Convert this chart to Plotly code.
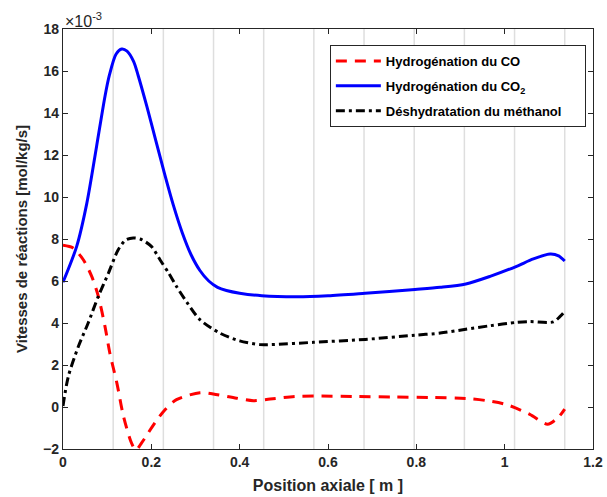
import plotly.graph_objects as go

# ---- data (units of 1e-3 mol/kg/s) ----
x_co2 = [0, 0.031, 0.054, 0.076, 0.095, 0.105, 0.12, 0.133, 0.145, 0.16, 0.17, 0.19, 0.21, 0.23, 0.25,
         0.27, 0.29, 0.31, 0.33, 0.35, 0.37, 0.40, 0.45, 0.53, 0.6, 0.684, 0.797, 0.854, 0.912, 0.967,
         1.027, 1.065, 1.103, 1.122, 1.136]
y_co2 = [5.94, 7.65, 9.71, 12.41, 14.79, 15.8, 16.8, 17.05, 16.95, 16.45, 15.8, 14.3, 12.7, 11.1, 9.6,
         8.3, 7.25, 6.5, 6.0, 5.7, 5.55, 5.42, 5.3, 5.25, 5.3, 5.42, 5.6, 5.7, 5.86, 6.22,
         6.70, 7.05, 7.28, 7.2, 6.95]

x_meth = [0, 0.012, 0.035, 0.057, 0.080, 0.103, 0.125, 0.142, 0.159, 0.175, 0.2, 0.22, 0.24, 0.257,
          0.28, 0.31, 0.355, 0.40, 0.446, 0.469, 0.567, 0.684, 0.797, 0.854, 0.912, 0.967, 1.027,
          1.057, 1.11, 1.125, 1.136]
y_meth = [0.05, 1.45, 2.89, 4.0, 5.27, 6.38, 7.49, 7.95, 8.05, 8.0, 7.65, 7.0, 6.35, 5.74,
          5.0, 4.16, 3.52, 3.15, 2.97, 2.97, 3.08, 3.22, 3.42, 3.52, 3.7, 3.87, 4.03,
          4.07, 4.05, 4.3, 4.55]

x_co = [0, 0.023, 0.046, 0.065, 0.080, 0.095, 0.106, 0.122, 0.137, 0.155, 0.165, 0.178, 0.208, 0.231,
        0.257, 0.31, 0.34, 0.393, 0.431, 0.469, 0.525, 0.571, 0.657, 0.748, 0.835, 0.918, 0.96,
        1.005, 1.057, 1.097, 1.121, 1.136]
y_co = [7.7, 7.57, 7.01, 6.22, 5.27, 3.84, 2.57, 1.14, -0.45, -1.71, -2.05, -1.71, -0.76, -0.13,
        0.35, 0.68, 0.62, 0.42, 0.3, 0.38, 0.5, 0.52, 0.5, 0.48, 0.45, 0.4, 0.3,
        0.11, -0.35, -0.82, -0.5, -0.1]

grid_x = [0.1136 * k for k in range(1, 11)]
x_ticks = [0, 0.2, 0.4, 0.6, 0.8, 1.0, 1.2]
x_tick_labels = ["0", "0.2", "0.4", "0.6", "0.8", "1", "1.2"]
y_ticks = [-2, 0, 2, 4, 6, 8, 10, 12, 14, 16, 18]

names = ["Hydrogénation du CO", "Hydrogénation du CO<sub>2</sub>",
         "Déshydratation du méthanol\u00a0\u00a0\u00a0\u00a0\u00a0"]

AX = "#262626"
FONT = "Liberation Sans, Arial, sans-serif"

fig = go.Figure()
fig.add_trace(go.Scatter(x=x_co, y=y_co, mode="lines", name=names[0], legendgroup="a",
                         line=dict(color="#ff0000", width=3, dash="11px,8px", shape="spline", smoothing=0.8)))
fig.add_trace(go.Scatter(x=x_co2, y=y_co2, mode="lines", name=names[1], legendgroup="b",
                         line=dict(color="#0000ff", width=3, shape="spline", smoothing=0.8)))
fig.add_trace(go.Scatter(x=x_meth, y=y_meth, mode="lines", name=names[2], legendgroup="c",
                         line=dict(color="#000000", width=3, dash="9px,4px,3px,4px", shape="spline", smoothing=0.8)))

shapes = [dict(type="line", xref="x", yref="paper", x0=gx, x1=gx, y0=0, y1=1,
               line=dict(color="#dedede", width=1.5), layer="below") for gx in grid_x]

axis_common = dict(showline=True, linecolor=AX, linewidth=1.3, mirror="ticks",
                   ticks="inside", ticklen=5, tickwidth=1.2, tickcolor=AX,
                   showgrid=False, zeroline=False, automargin=False,
                   tickfont=dict(family=FONT, size=14, color=AX, weight="bold"))

fig.update_layout(
    width=607, height=497,
    margin=dict(l=63, r=14, t=29, b=48),
    paper_bgcolor="white", plot_bgcolor="white",
    font=dict(family=FONT, color=AX),
    shapes=shapes,
    xaxis=dict(range=[0, 1.2], tickvals=x_ticks, ticktext=x_tick_labels,
               title=dict(text="<b>Position axiale [ m ]</b>", font=dict(family=FONT, size=16, color=AX), standoff=10),
               **axis_common),
    yaxis=dict(range=[-2, 18], tickvals=y_ticks,
               title=dict(text="<b>Vitesses de réactions [mol/kg/s]</b>", font=dict(family=FONT, size=15, color=AX), standoff=11),
               **axis_common),
    legend=dict(x=0.5035, y=0.962, xanchor="left", yanchor="top",
                bgcolor="white", bordercolor=AX, borderwidth=1,
                font=dict(family=FONT, size=13, color="black", weight="bold"),
                tracegroupgap=5, itemwidth=45),
    annotations=[dict(text="×10<sup>-3</sup>", xref="paper", yref="paper", x=0, y=1,
                      xanchor="left", yanchor="bottom", showarrow=False,
                      font=dict(family=FONT, size=16, color=AX), yshift=-3)],
)

fig.write_html("out.html", config={"displayModeBar": False},
               post_script="document.body.style.margin='0';document.body.style.overflow='hidden';")
